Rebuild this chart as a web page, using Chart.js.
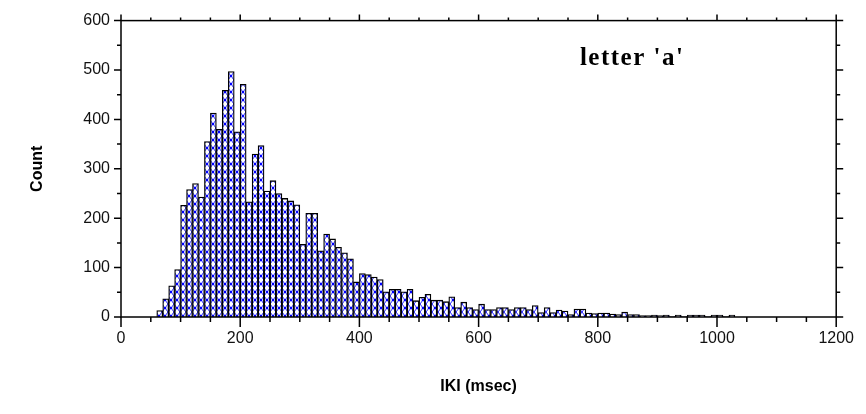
<!DOCTYPE html>
<html><head><meta charset="utf-8">
<script src="https://cdn.jsdelivr.net/npm/chart.js@4.4.0/dist/chart.umd.min.js"></script>
<style>html,body{margin:0;padding:0;background:#fff;}#wrap{width:866px;height:414px;position:relative;}</style>
</head><body><div id="wrap"><canvas id="c"></canvas></div>
<script>
// IKI histogram bins (bin start, msec) and counts
const binStarts = [60,70,80,90,100,110,120,130,140,150,160,170,180,190,200,210,220,230,240,250,
  260,270,280,290,300,310,320,330,340,350,360,370,380,390,400,410,420,430,440,450,
  460,470,480,490,500,510,520,530,540,550,560,570,580,590,600,610,620,630,640,650,
  660,670,680,690,700,710,720,730,740,750,760,770,780,790,800,810,820,830,840,850,
  860,870,880,890,900,910,920,930,940,950,960,970,980,990,1000,1010,1020];
const counts = [13,37,63,96,226,258,270,243,355,413,380,459,497,375,471,233,330,347,255,276,
  250,240,235,227,147,210,210,134,168,158,141,130,118,71,88,86,81,76,51,56,
  56,51,56,33,40,46,34,34,31,41,19,30,19,15,26,15,15,19,19,15,
  19,19,15,23,9,19,9,14,12,5,16,16,8,7,8,8,6,5,10,5,
  5,3,3,4,3,4,1,4,1,4,4,4,1,4,4,1,4];
const binWidth = 10;
const xTickLabels = [0,200,400,600,800,1000,1200];
const yTickLabels = [0,100,200,300,400,500,600];
const annotationText = "letter 'a'";
const xTitle = 'IKI (msec)';
const yTitle = 'Count';

function pattern(){
  const c = document.createElement('canvas'); c.width = 6; c.height = 8;
  const g = c.getContext('2d');
  g.fillStyle = '#ffffff'; g.fillRect(0,0,6,8);
  g.strokeStyle = 'rgba(10,10,255,0.9)'; g.lineWidth = 1;
  g.beginPath(); g.moveTo(0,0); g.lineTo(6,8); g.moveTo(6,0); g.lineTo(0,8); g.stroke();
  g.fillStyle = '#0000ff'; g.fillRect(1.8,3,2.4,2);
  return document.getElementById('c').getContext('2d').createPattern(c,'repeat');
}

const axesPlugin = {
  id: 'axesFrame',
  afterDatasetsDraw(chart){
    const {ctx, chartArea:{left,right,top,bottom}, scales:{x,y}} = chart;
    ctx.save();
    ctx.strokeStyle = '#000'; ctx.lineWidth = 1.5;
    ctx.strokeRect(left, top, right-left, bottom-top);
    ctx.beginPath();
    for (let v = 0; v <= 600; v += 50) {
      const py = y.getPixelForValue(v);
      const len = (v % 100 === 0) ? 7 : 4;
      ctx.moveTo(left, py); ctx.lineTo(left - len, py);
      ctx.moveTo(right, py); ctx.lineTo(right + len, py);
    }
    for (let v = 0; v <= 1200; v += 50) {
      const px = x.getPixelForValue(v);
      const len = (v % 200 === 0) ? 10 : 5;
      ctx.moveTo(px, bottom); ctx.lineTo(px, bottom + len);
      ctx.moveTo(px, top); ctx.lineTo(px, top - len*0.6);
    }
    ctx.stroke();
    ctx.fillStyle = '#000';
    ctx.font = 'bold 25px "Liberation Serif", "Times New Roman", serif';
    if ('letterSpacing' in ctx) ctx.letterSpacing = '1.5px';
    ctx.textBaseline = 'alphabetic'; ctx.textAlign = 'left';
    ctx.fillText(annotationText, x.getPixelForValue(770), y.getPixelForValue(510));
    ctx.restore();
  }
};

const tickFont = {family: '"Liberation Sans", Arial, sans-serif', size: 16};
const titleFont = {family: '"Liberation Sans", Arial, sans-serif', size: 16, weight: 'bold'};

new Chart(document.getElementById('c'), {
  type: 'bar',
  data: {
    datasets: [{
      data: binStarts.map((b,i) => ({x: b + binWidth/2, y: counts[i]})),
      backgroundColor: pattern(),
      borderColor: '#000',
      borderWidth: 1.3,
      barPercentage: 1,
      categoryPercentage: 1
    }]
  },
  options: {
    responsive: true, maintainAspectRatio: false, animation: false,
    layout: {padding: {left: 0, right: 21, top: 18, bottom: 0}},
    plugins: {legend: {display: false}, tooltip: {enabled: false}},
    scales: {
      x: {
        type: 'linear', min: 0, max: 1200, offset: false,
        grid: {display: false, drawTicks: false}, border: {display: false},
        afterBuildTicks: s => { s.ticks = xTickLabels.map(v => ({value: v})); },
        afterFit: s => { s.height = 97; },
        ticks: {color: '#111', padding: 12, maxRotation: 0, autoSkip: false,
          callback: v => String(v), font: tickFont},
        title: {display: true, text: xTitle, color: '#000', padding: {bottom: 18}, font: titleFont}
      },
      y: {
        min: 0, max: 600,
        grid: {display: false, drawTicks: false}, border: {display: false},
        afterBuildTicks: s => { s.ticks = yTickLabels.map(v => ({value: v})); },
        afterFit: s => { s.width = 121; },
        ticks: {color: '#111', padding: 11, callback: v => String(v), font: tickFont},
        title: {display: true, text: yTitle, color: '#000', padding: {top: 28}, font: titleFont}
      }
    }
  },
  plugins: [axesPlugin]
});
</script></body></html>
